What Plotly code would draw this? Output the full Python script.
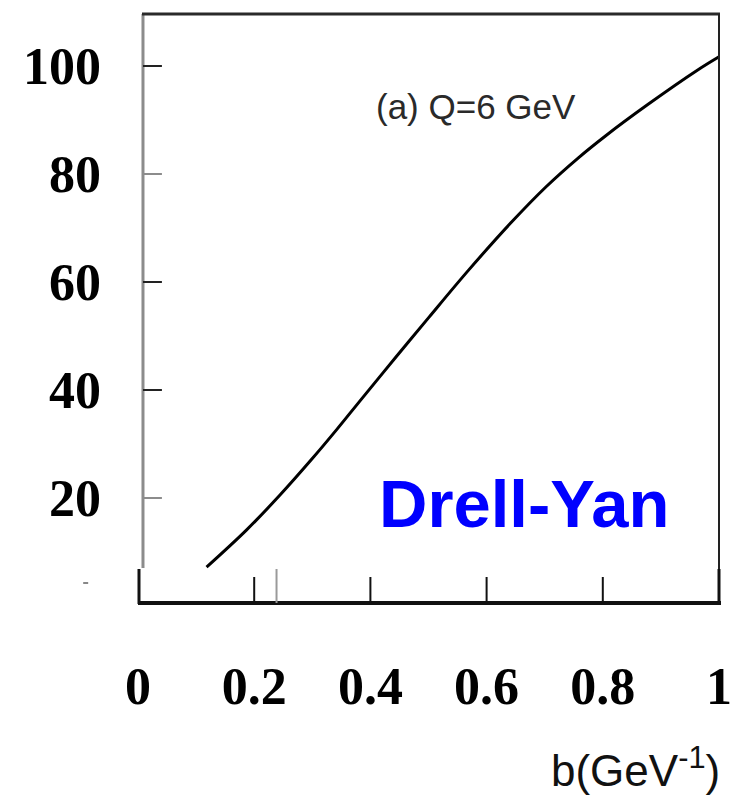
import plotly.graph_objects as go

# ---- data ----
b_vals = [0.118, 0.187, 0.244, 0.300, 0.343, 0.386, 0.444, 0.501, 0.569,
          0.643, 0.702, 0.758, 0.804, 0.878, 0.964, 1.0]
f_vals = [7.2, 14.1, 20.5, 27.3, 32.8, 38.5, 46.1, 53.5, 62.2,
          71.1, 77.6, 83.0, 87.0, 92.9, 99.3, 101.7]
x_ticks = [0, 0.2, 0.4, 0.6, 0.8, 1]
x_tick_text = ["0", "0.2", "0.4", "0.6", "0.8", "1"]
y_ticks = [20, 40, 60, 80, 100]
y_tick_text = ["20", "40", "60", "80", "100"]

W, H = 744, 800
L, R, T, B = 138, 721, 14, 603          # plot area in pixels
PX_PER_UNIT = 5.4
Y0_PX = 606                               # pixel row of y = 0
y_lo = (Y0_PX - B) / PX_PER_UNIT
y_hi = (Y0_PX - T) / PX_PER_UNIT


def xp(px):
    return (px - L) / (R - L)


def yp(py):
    return (B - py) / (B - T)


fig = go.Figure()
fig.add_trace(go.Scatter(x=b_vals, y=f_vals, mode="lines",
                         line=dict(color="black", width=3, shape="spline", smoothing=1.0),
                         hoverinfo="skip", showlegend=False))

shapes = []


def seg(x0, y0, x1, y1, color, width):
    shapes.append(dict(type="line", xref="paper", yref="paper",
                       x0=xp(x0), y0=yp(y0), x1=xp(x1), y1=yp(y1),
                       line=dict(color=color, width=width), layer="above"))


# upper frame
seg(143, 14, 143, 568, "#8c8c8c", 3)
seg(142, 14, 722, 14, "#2a2a2a", 3)
seg(721, 14, 721, 570, "#222222", 2)
# y ticks (inside)
tick_cols = {20: "#8c8c8c", 40: "#222222", 60: "#222222", 80: "#8c8c8c", 100: "#222222"}
for v in y_ticks:
    shapes.append(dict(type="line", xref="paper", yref="y",
                       x0=xp(143), x1=xp(162), y0=v, y1=v,
                       line=dict(color=tick_cols[v], width=2), layer="above"))
# lower piece
seg(139, 569, 139, 604, "#111111", 3)
seg(138, 603, 723, 603, "#111111", 4)
seg(721, 569, 721, 603, "#111111", 3)
for v in x_ticks[1:-1]:
    shapes.append(dict(type="line", xref="x", yref="paper",
                       x0=v, x1=v, y0=yp(603), y1=yp(577),
                       line=dict(color="#111111", width=2), layer="above"))
seg(277, 569, 277, 603, "#9a9a9a", 2)
seg(83, 583, 88, 583, "#888888", 2)

fig.update_layout(
    width=W, height=H,
    margin=dict(l=L, r=W - R, t=T, b=H - B, pad=0),
    paper_bgcolor="white", plot_bgcolor="white",
    shapes=shapes,
    xaxis=dict(range=[0, 1], showgrid=False, zeroline=False, showline=False,
               ticks="", tickvals=x_ticks, ticktext=x_tick_text,
               ticklabelstandoff=48,
               tickfont=dict(family="Liberation Serif", size=52, color="black", weight="bold")),
    yaxis=dict(range=[y_lo, y_hi], showgrid=False, zeroline=False, showline=False,
               ticks="", tickvals=y_ticks, ticktext=y_tick_text,
               ticklabelstandoff=36,
               tickfont=dict(family="Liberation Serif", size=52, color="black", weight="bold")),
    annotations=[
        dict(text="(a) Q=6 GeV", xref="paper", yref="paper", x=xp(477), y=yp(106),
             xanchor="center", yanchor="middle", showarrow=False,
             font=dict(family="Liberation Sans", size=35, color="#2a2a2a")),
        dict(text="Drell-Yan", xref="paper", yref="paper", x=xp(525), y=yp(503),
             xanchor="center", yanchor="middle", showarrow=False,
             font=dict(family="Liberation Sans", size=67, color="#0000ff", weight="bold")),
        dict(text="b(GeV<sup>-1</sup>)", xref="paper", yref="paper", x=xp(724), y=yp(768),
             xanchor="right", yanchor="middle", showarrow=False,
             font=dict(family="Liberation Sans", size=44, color="#111111")),
    ],
)

fig.write_html("out.html")
